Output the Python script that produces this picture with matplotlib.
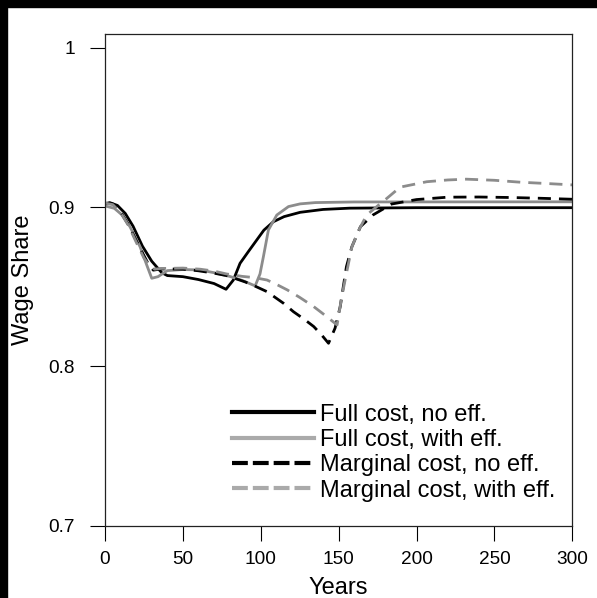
import matplotlib.pyplot as plt
from matplotlib.lines import Line2D
from matplotlib.patches import Rectangle

plt.rcParams['font.family'] = ['Liberation Sans', 'DejaVu Sans']

# Wage share paths (years, share)
fc_noeff_x = [0, 3, 8, 13, 18, 24, 30, 36.4, 40, 50, 60, 70, 77.7, 82.4, 86.7, 92, 97.4,
              102, 108.1, 115, 125.3, 140, 157, 200, 300]
fc_noeff_y = [0.902, 0.9028, 0.901, 0.896, 0.888, 0.8755, 0.866, 0.8588, 0.857, 0.8563,
              0.8545, 0.852, 0.8484, 0.8542, 0.8647, 0.872, 0.8793, 0.8855, 0.8908, 0.894,
              0.8967, 0.8985, 0.8993, 0.8996, 0.8996]

fc_eff_x = [0, 6, 11, 16, 22.5, 26.8, 30, 34, 40, 50, 61, 70, 80, 88, 96.4, 99.5, 101.7,
            104.9, 110.3, 117.8, 125.3, 135, 160, 300]
fc_eff_y = [0.9007, 0.8992, 0.895, 0.8877, 0.8751, 0.8636, 0.8553, 0.8563, 0.8601,
            0.8608, 0.8605, 0.8588, 0.8565, 0.854, 0.8505, 0.858, 0.8689, 0.8856, 0.895,
            0.9003, 0.902, 0.9028, 0.9032, 0.9033]

mc_noeff_x = [0, 5, 10, 15, 20, 25, 28, 31, 35, 40, 50, 60, 70, 78, 90, 96, 104, 114.6,
              121, 128, 134, 139, 143.5, 147.7, 151, 155, 158.5, 164, 172, 184, 200, 220,
              240, 260, 280, 300]
mc_noeff_y = [0.9025, 0.902, 0.897, 0.889, 0.879, 0.8695, 0.864, 0.8604, 0.861, 0.8612,
              0.861, 0.860, 0.8585, 0.857, 0.853, 0.8505, 0.8469, 0.8396, 0.8343, 0.8295,
              0.825, 0.8198, 0.8145, 0.824, 0.8375, 0.8626, 0.8751, 0.8877, 0.895, 0.9019,
              0.9047, 0.9062, 0.9063, 0.906, 0.9055, 0.9049]

mc_eff_x = [0, 5, 10, 15, 20, 25, 29, 32, 36, 40, 50, 61, 70, 78, 88, 96, 104, 110, 117,
            125, 134, 142, 149, 152, 155, 158.5, 163, 168, 174.5, 181, 189.5, 206.6, 220,
            232, 250, 266.6, 285, 300]
mc_eff_y = [0.9025, 0.9015, 0.8965, 0.8885, 0.878, 0.868, 0.8625, 0.861, 0.8615, 0.8615,
            0.8617, 0.861, 0.8598, 0.858, 0.8565, 0.8557, 0.8542, 0.8515, 0.848, 0.8433,
            0.8375, 0.8315, 0.826, 0.8437, 0.8584, 0.875, 0.8856, 0.895, 0.9003, 0.9055,
            0.9125, 0.9159, 0.917, 0.9175, 0.9168, 0.9156, 0.9147, 0.9139]

labels = ['Full cost, no eff.', 'Full cost, with eff.',
          'Marginal cost, no eff.', 'Marginal cost, with eff.']

fig = plt.figure(figsize=(5.97, 5.98), dpi=100)
ax = fig.add_axes([0.1759, 0.1209, 0.7827, 0.8222])

gray = '#8c8c8c'
dash = (4.7, 2.9)
ax.plot(fc_noeff_x, fc_noeff_y, color='black', lw=2)
ax.plot(fc_eff_x, fc_eff_y, color=gray, lw=2)
ax.plot(mc_noeff_x, mc_noeff_y, color='black', lw=2, dashes=dash)
ax.plot(mc_eff_x, mc_eff_y, color=gray, lw=2, dashes=dash)

ax.set_xlim(0, 300)
ax.set_ylim(0.7, 1.0086)
ax.set_xticks([0, 50, 100, 150, 200, 250, 300])
ax.set_yticks([0.7, 0.8, 0.9, 1.0])
ax.set_yticklabels(['0.7', '0.8', '0.9', '1'])
ax.tick_params(axis='both', direction='out', length=10.8, width=0.8, labelsize=13.7)
ax.tick_params(axis='x', pad=7.2)
ax.tick_params(axis='y', pad=10.8)
for s in ax.spines.values():
    s.set_linewidth(0.9)
    s.set_color('#222222')

ax.set_xlabel('Years', fontsize=17, va='baseline')
ax.xaxis.set_label_coords(0.5, -0.139)
ax.set_ylabel('Wage Share', fontsize=17, va='center')
ax.yaxis.set_label_coords(-0.1755, 0.5)

lg_gray = '#aaaaaa'
handles = [Line2D([], [], color='black', lw=3),
           Line2D([], [], color=lg_gray, lw=3),
           Line2D([], [], color='black', lw=3, dashes=(3.8, 1.2)),
           Line2D([], [], color=lg_gray, lw=3, dashes=(3.8, 1.2))]
ax.legend(handles, labels, loc='lower right', bbox_to_anchor=(0.964, 0.049),
          frameon=False, fontsize=17, handlelength=3.47, handletextpad=0.25,
          labelspacing=0.14, borderpad=0, borderaxespad=0)

# dark bands along top and left edges
fig.patches.append(Rectangle((0, 0), 0.0122, 1, transform=fig.transFigure,
                             color='black', zorder=10))
fig.patches.append(Rectangle((0, 0.9875), 1, 0.0125, transform=fig.transFigure,
                             color='black', zorder=10))

fig.savefig('out.png', dpi=100)
